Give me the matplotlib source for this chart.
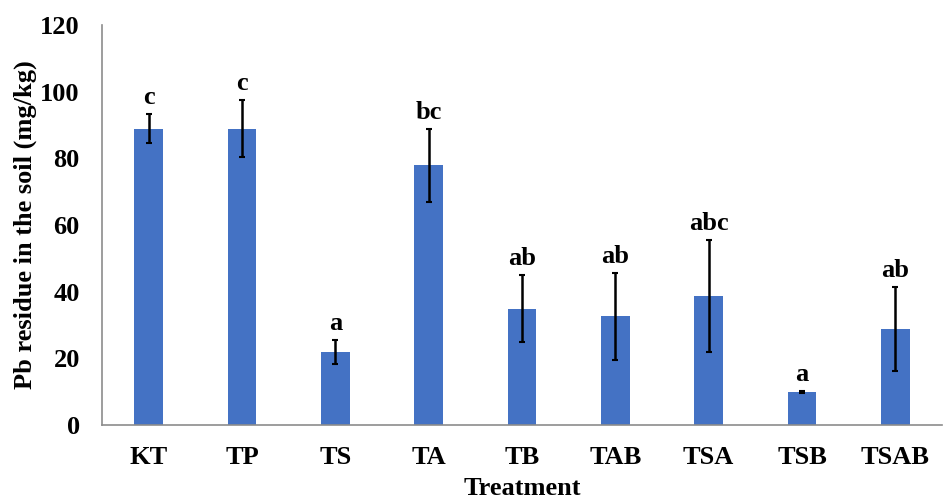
import matplotlib.pyplot as plt
import numpy as np

treatments = ['KT', 'TP', 'TS', 'TA', 'TB', 'TAB', 'TSA', 'TSB', 'TSAB']
pb_residue = [88.9, 88.9, 21.9, 77.9, 34.9, 32.6, 38.7, 9.9, 28.9]
pb_error = [4.3, 8.5, 3.7, 10.9, 10.0, 13.0, 16.8, 0.3, 12.6]
letters = ['c', 'c', 'a', 'bc', 'ab', 'ab', 'abc', 'a', 'ab']

plt.rcParams['font.family'] = 'Liberation Serif'
plt.rcParams['font.weight'] = 'bold'

fig = plt.figure(figsize=(9.47, 4.99), dpi=100)
ax = fig.add_axes([102 / 947, 74 / 499, 840 / 947, 400 / 499])

x = np.arange(len(treatments))
ax.bar(x, pb_residue, width=0.31, color='#4472C4', zorder=2)
ax.errorbar(x, pb_residue, yerr=pb_error, fmt='none', ecolor='black',
            elinewidth=1.8, capsize=2.5, capthick=1.5, zorder=3)

# significance letters above the error bars
for xi, v, e, s in zip(x, pb_residue, pb_error, letters):
    ax.text(xi, v + e + 1.5, s, ha='center', va='bottom',
            fontsize=19, fontweight='bold')

ax.set_xlim(-0.5, len(treatments) - 0.5)
ax.set_ylim(0, 120)
ax.set_yticks(range(0, 121, 20))
ax.set_xticks(x)
ax.set_xticklabels(treatments)
ax.tick_params(axis='both', length=0, labelsize=19)
ax.tick_params(axis='x', pad=15)
ax.tick_params(axis='y', pad=16)

for side in ['top', 'right']:
    ax.spines[side].set_visible(False)
for side in ['left', 'bottom']:
    ax.spines[side].set_color('#8c8c8c')
    ax.spines[side].set_linewidth(1.2)

ax.set_ylabel('Pb residue in the soil (mg/kg)', fontsize=19, fontweight='bold')
ax.set_xlabel('Treatment', fontsize=19, fontweight='bold')
ax.yaxis.set_label_coords(-0.077, 0.5)
ax.xaxis.set_label_coords(0.5, -0.13)

fig.savefig('out.png', dpi=100)
